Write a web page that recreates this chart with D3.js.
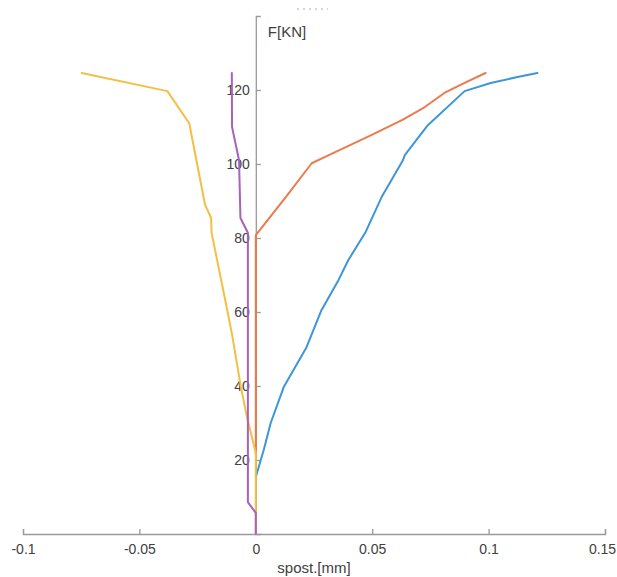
<html>
<head>
  <style>
    body { margin: 0; background: #fff; }
    svg text { font-family: "Liberation Sans", Arial, sans-serif; fill: #404040; }
    svg .domain, svg .tick line { stroke: #9a9a9a; stroke-width: 1.3px; }
    svg .curve { fill: none; stroke-width: 2px; stroke-linejoin: round; stroke-linecap: round; }
  </style>
</head>
<body>
  <div id="chart"></div>
  <script src="https://d3js.org/d3.v7.min.js"></script>
  <script>
    // axis ticks
    var xTicks = [-0.1, -0.05, 0, 0.05, 0.1, 0.15];
    var xTickLabels = ["-0.1", "-0.05", "0", "0.05", "0.1", "0.15"];
    var yTicks = [20, 40, 60, 80, 100, 120];

    // series (spost. [mm], F [kN])
    var blueX = [0, 0.0034, 0.0064, 0.012, 0.0218, 0.0282, 0.0355, 0.0397, 0.047, 0.054, 0.0632, 0.064, 0.0739, 0.0897, 0.1009, 0.1124, 0.121];
    var blueF = [15.4, 22.7, 30, 39.7, 50.5, 60.5, 68.6, 74, 81.4, 91, 101, 102.4, 110.5, 119.7, 121.9, 123.5, 124.6];

    var orangeX = [0, 0, 0.0128, 0.024, 0.030, 0.0496, 0.0632, 0.0726, 0.081, 0.0897, 0.0987];
    var orangeF = [21.5, 80.8, 91, 100.2, 102, 107.8, 112, 115.4, 119.2, 121.9, 124.6];

    var yellowX = [0, 0, -0.0038, -0.0064, -0.0103, -0.0137, -0.019, -0.0192, -0.0218, -0.0286, -0.038, -0.0748];
    var yellowF = [0, 21.9, 31.6, 39.7, 54.3, 65, 81.4, 85.4, 89, 111, 119.7, 124.6];

    var purpleX = [0, 0, -0.0034, -0.0034, -0.0066, -0.0072, -0.0102, -0.0103];
    var purpleF = [0, 5.7, 8.6, 81.4, 85.4, 101, 110, 124.6];

    var W = 617, H = 577;

    var svg = d3.select("#chart")
      .append("svg")
        .attr("width", W)
        .attr("height", H);

    // scales
    var xScale = d3.scaleLinear().domain([-0.1, 0.15]).range([23, 605]);
    var yScale = d3.scaleLinear().domain([0, 140]).range([534, 16]);

    // clipped title remnant at the very top
    svg.append("line")
      .attr("x1", 297).attr("x2", 328)
      .attr("y1", 9).attr("y2", 9)
      .style("stroke", "#aaa")
      .style("stroke-width", "1px")
      .style("stroke-dasharray", "2,4");

    // x axis (ticks pointing up)
    var xAxis = d3.axisBottom(xScale)
      .tickValues(xTicks)
      .tickFormat(function (d, i) { return xTickLabels[i]; })
      .tickSizeInner(-5)
      .tickSizeOuter(-5)
      .tickPadding(10);

    var xg = svg.append("g")
      .attr("transform", "translate(0," + yScale(0) + ")")
      .call(xAxis);
    xg.selectAll(".tick text").style("font-size", "14px");
    // keep the last label inside the window
    xg.selectAll(".tick text")
      .filter(function (d) { return d === 0.15; })
      .attr("dx", "-3px");

    svg.append("text")
      .attr("x", (xScale(-0.1) + xScale(0.15)) / 2)
      .attr("y", 573)
      .attr("text-anchor", "middle")
      .style("font-size", "15px")
      .text("spost.[mm]");

    // y axis through x = 0 (ticks pointing right)
    var yAxis = d3.axisLeft(yScale)
      .tickValues(yTicks)
      .tickSizeInner(-5)
      .tickSizeOuter(-5)
      .tickPadding(6);

    var yg = svg.append("g")
      .attr("transform", "translate(" + xScale(0) + ",0)")
      .call(yAxis);
    yg.selectAll(".tick text").style("font-size", "14px");

    svg.append("text")
      .attr("x", xScale(0) + 12)
      .attr("y", 37)
      .style("font-size", "15px")
      .text("F[KN]");

    // curves
    var line = d3.line()
      .x(function (d) { return xScale(d[0]); })
      .y(function (d) { return yScale(d[1]); });

    var series = [
      { xs: blueX,   fs: blueF,   color: "#3d96d8" },
      { xs: orangeX, fs: orangeF, color: "#ec7a4c" },
      { xs: yellowX, fs: yellowF, color: "#f3bf44" },
      { xs: purpleX, fs: purpleF, color: "#a862ba" }
    ];

    series.forEach(function (s) {
      var pts = s.xs.map(function (x, i) { return [x, s.fs[i]]; });
      svg.append("path")
        .classed("curve", true)
        .attr("d", line(pts))
        .style("stroke", s.color);
    });
  </script>
</body>
</html>
